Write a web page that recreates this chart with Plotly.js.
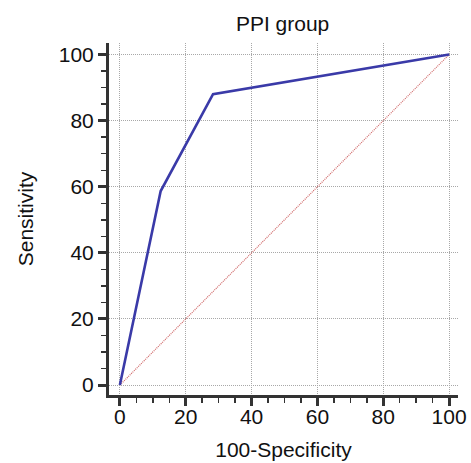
<!DOCTYPE html>
<html>
<head>
<meta charset="utf-8">
<script src="https://cdn.plot.ly/plotly-3.0.1.min.js"></script>
<style>html,body{margin:0;padding:0;background:#fff;}#chart{width:471px;height:463px;}</style>
</head>
<body>
<div id="chart"></div>
<script>
const rocX = [0, 12.4, 28.3, 100];
const rocY = [0, 58.7, 88, 100];
const refX = [0, 100];
const refY = [0, 100];
const tickVals = [0, 20, 40, 60, 80, 100];

const FONT = 'Liberation Sans, Arial, sans-serif';

const traces = [
  {x: refX, y: refY, mode: 'lines', line: {color: '#d06a6a', width: 1.2, dash: '1px,1px'}, hoverinfo: 'skip'},
  {x: rocX, y: rocY, mode: 'lines', line: {color: '#3a3aa8', width: 2.6}}
];

const axisCommon = {
  showline: true, linecolor: '#333', linewidth: 3,
  ticks: 'outside', ticklen: 8, tickwidth: 3, tickcolor: '#333',
  tickvals: tickVals,
  showgrid: true, gridcolor: '#a8a8a8', gridwidth: 1, griddash: '1px,1px',
  zeroline: false,
  tickfont: {family: FONT, size: 21, color: '#111'},
  minor: {dtick: 5, ticks: 'outside', ticklen: 5, tickwidth: 1.5, tickcolor: '#333', showgrid: false}
};

const layout = {
  width: 471, height: 463,
  margin: {l: 109, r: 13, t: 43, b: 68},
  paper_bgcolor: '#fff', plot_bgcolor: '#fff',
  showlegend: false,
  title: {text: 'PPI group', x: 0.6, xanchor: 'center', y: 0.95, yanchor: 'middle',
          font: {family: FONT, size: 21, color: '#111'}},
  xaxis: Object.assign({}, axisCommon, {
    range: [-3.3, 102.7],
    ticklabelstandoff: -7,
    title: {text: '100-Specificity', standoff: 16, font: {family: FONT, size: 21, color: '#111'}}
  }),
  yaxis: Object.assign({}, axisCommon, {
    range: [-3, 103.5],
    title: {text: 'Sensitivity', standoff: 20, font: {family: FONT, size: 21, color: '#111'}}
  })
};

Plotly.newPlot('chart', traces, layout, {displayModeBar: false, staticPlot: true});
</script>
</body>
</html>
